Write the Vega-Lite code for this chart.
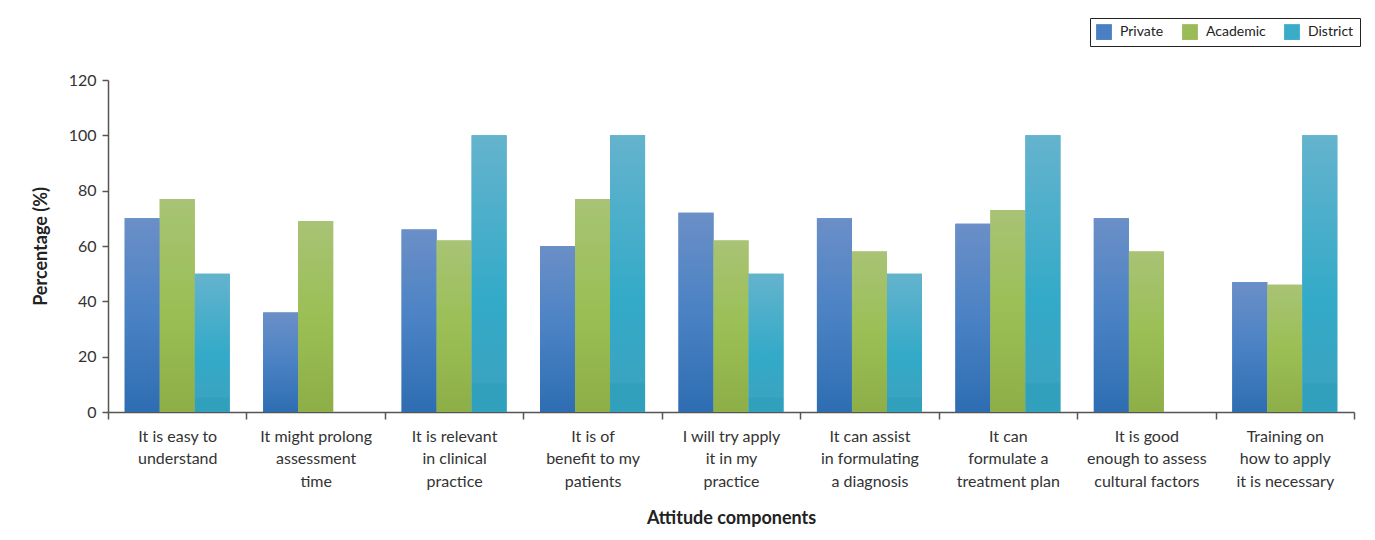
{
  "$schema": "https://vega.github.io/schema/vega-lite/v6.json",
  "autosize": {"type": "none"},
  "width": 1246,
  "height": 332,
  "padding": {"left": 108, "top": 80, "right": 21, "bottom": 128},
  "background": "white",
  "config": {
    "view": {"stroke": null},
    "font": "Lato",
    "axis": {"labelFont": "Lato", "titleFont": "Lato", "labelColor": "#333333", "titleColor": "#222222", "domainColor": "#555555", "tickColor": "#555555", "domainWidth": 1.5, "tickWidth": 1.5}
  },
  "data": {
    "values": [
      {"component": "It is easy to|understand", "group": "Private", "value": 70},
      {"component": "It is easy to|understand", "group": "Academic", "value": 77},
      {"component": "It is easy to|understand", "group": "District", "value": 50},
      {"component": "It might prolong|assessment|time", "group": "Private", "value": 36},
      {"component": "It might prolong|assessment|time", "group": "Academic", "value": 69},
      {"component": "It is relevant|in clinical|practice", "group": "Private", "value": 66},
      {"component": "It is relevant|in clinical|practice", "group": "Academic", "value": 62},
      {"component": "It is relevant|in clinical|practice", "group": "District", "value": 100},
      {"component": "It is of|benefit to my|patients", "group": "Private", "value": 60},
      {"component": "It is of|benefit to my|patients", "group": "Academic", "value": 77},
      {"component": "It is of|benefit to my|patients", "group": "District", "value": 100},
      {"component": "I will try apply|it in my|practice", "group": "Private", "value": 72},
      {"component": "I will try apply|it in my|practice", "group": "Academic", "value": 62},
      {"component": "I will try apply|it in my|practice", "group": "District", "value": 50},
      {"component": "It can assist|in formulating|a diagnosis", "group": "Private", "value": 70},
      {"component": "It can assist|in formulating|a diagnosis", "group": "Academic", "value": 58},
      {"component": "It can assist|in formulating|a diagnosis", "group": "District", "value": 50},
      {"component": "It can|formulate a|treatment plan", "group": "Private", "value": 68},
      {"component": "It can|formulate a|treatment plan", "group": "Academic", "value": 73},
      {"component": "It can|formulate a|treatment plan", "group": "District", "value": 100},
      {"component": "It is good|enough to assess|cultural factors", "group": "Private", "value": 70},
      {"component": "It is good|enough to assess|cultural factors", "group": "Academic", "value": 58},
      {"component": "Training on|how to apply|it is necessary", "group": "Private", "value": 47},
      {"component": "Training on|how to apply|it is necessary", "group": "Academic", "value": 46},
      {"component": "Training on|how to apply|it is necessary", "group": "District", "value": 100}
    ]
  },
  "encoding": {
    "x": {
      "field": "component",
      "type": "nominal",
      "sort": null,
      "scale": {"paddingInner": 0, "paddingOuter": 0},
      "axis": {
        "title": "Attitude components",
        "titleFontSize": 18,
        "titleFontWeight": "bold",
        "titlePadding": 20,
        "labelAngle": 0,
        "labelExpr": "split(datum.label, '|')",
        "labelFontSize": 16,
        "labelLineHeight": 22.5,
        "labelPadding": 9,
        "tickSize": 7,
        "tickBand": "extent",
        "labelLimit": 200
      }
    },
    "xOffset": {
      "field": "group",
      "type": "nominal",
      "scale": {"domain": ["Private", "Academic", "District"], "paddingInner": 0, "paddingOuter": 0.477}
    },
    "y": {
      "field": "value",
      "type": "quantitative",
      "scale": {"domain": [0, 120]},
      "axis": {
        "title": "Percentage (%)",
        "titleFontSize": 18,
        "titleFontWeight": "bold",
        "titlePadding": 18,
        "values": [0, 20, 40, 60, 80, 100, 120],
        "labelFontSize": 16,
        "tickSize": 6,
        "labelPadding": 6,
        "grid": false
      }
    }
  },
  "layer": [
    {
      "mark": {"type": "bar"},
      "encoding": {
        "color": {
          "field": "group",
          "type": "nominal",
          "scale": {"domain": ["Private", "Academic", "District"], "range": ["#4a7fc1", "#9bbb59", "#3aabc9"]},
          "legend": {
            "title": null,
            "orient": "none",
            "legendX": 982,
            "legendY": -62,
            "direction": "horizontal",
            "strokeColor": "#222222",
            "padding": 6,
            "symbolType": "square",
            "symbolSize": 250,
            "symbolStrokeWidth": 0,
            "symbolOpacity": 1,
            "labelFont": "Lato",
            "labelFontSize": 14,
            "labelOffset": 8,
            "labelColor": "#222222",
            "columnPadding": 18
          }
        }
      }
    },
    {
      "mark": {"type": "bar"},
      "encoding": {
        "color": {
          "condition": [
            {"test": "datum.group === 'Private'", "value": {"gradient": "linear", "x1": 0, "y1": 0, "x2": 0, "y2": 1, "stops": [{"offset": 0, "color": "#6b8fc7"}, {"offset": 0.5, "color": "#4a82c4"}, {"offset": 1, "color": "#2e6db2"}]}},
            {"test": "datum.group === 'Academic'", "value": {"gradient": "linear", "x1": 0, "y1": 0, "x2": 0, "y2": 1, "stops": [{"offset": 0, "color": "#a8c375"}, {"offset": 0.5, "color": "#9bbf55"}, {"offset": 1, "color": "#8eae47"}]}}
          ],
          "value": {"gradient": "linear", "x1": 0, "y1": 0, "x2": 0, "y2": 1, "stops": [{"offset": 0, "color": "#65b3cd"}, {"offset": 0.6, "color": "#32aac8"}, {"offset": 0.89, "color": "#3aa4c2"}, {"offset": 0.9, "color": "#31a0bd"}, {"offset": 1, "color": "#31a0bd"}]}
        }
      }
    }
  ]
}
